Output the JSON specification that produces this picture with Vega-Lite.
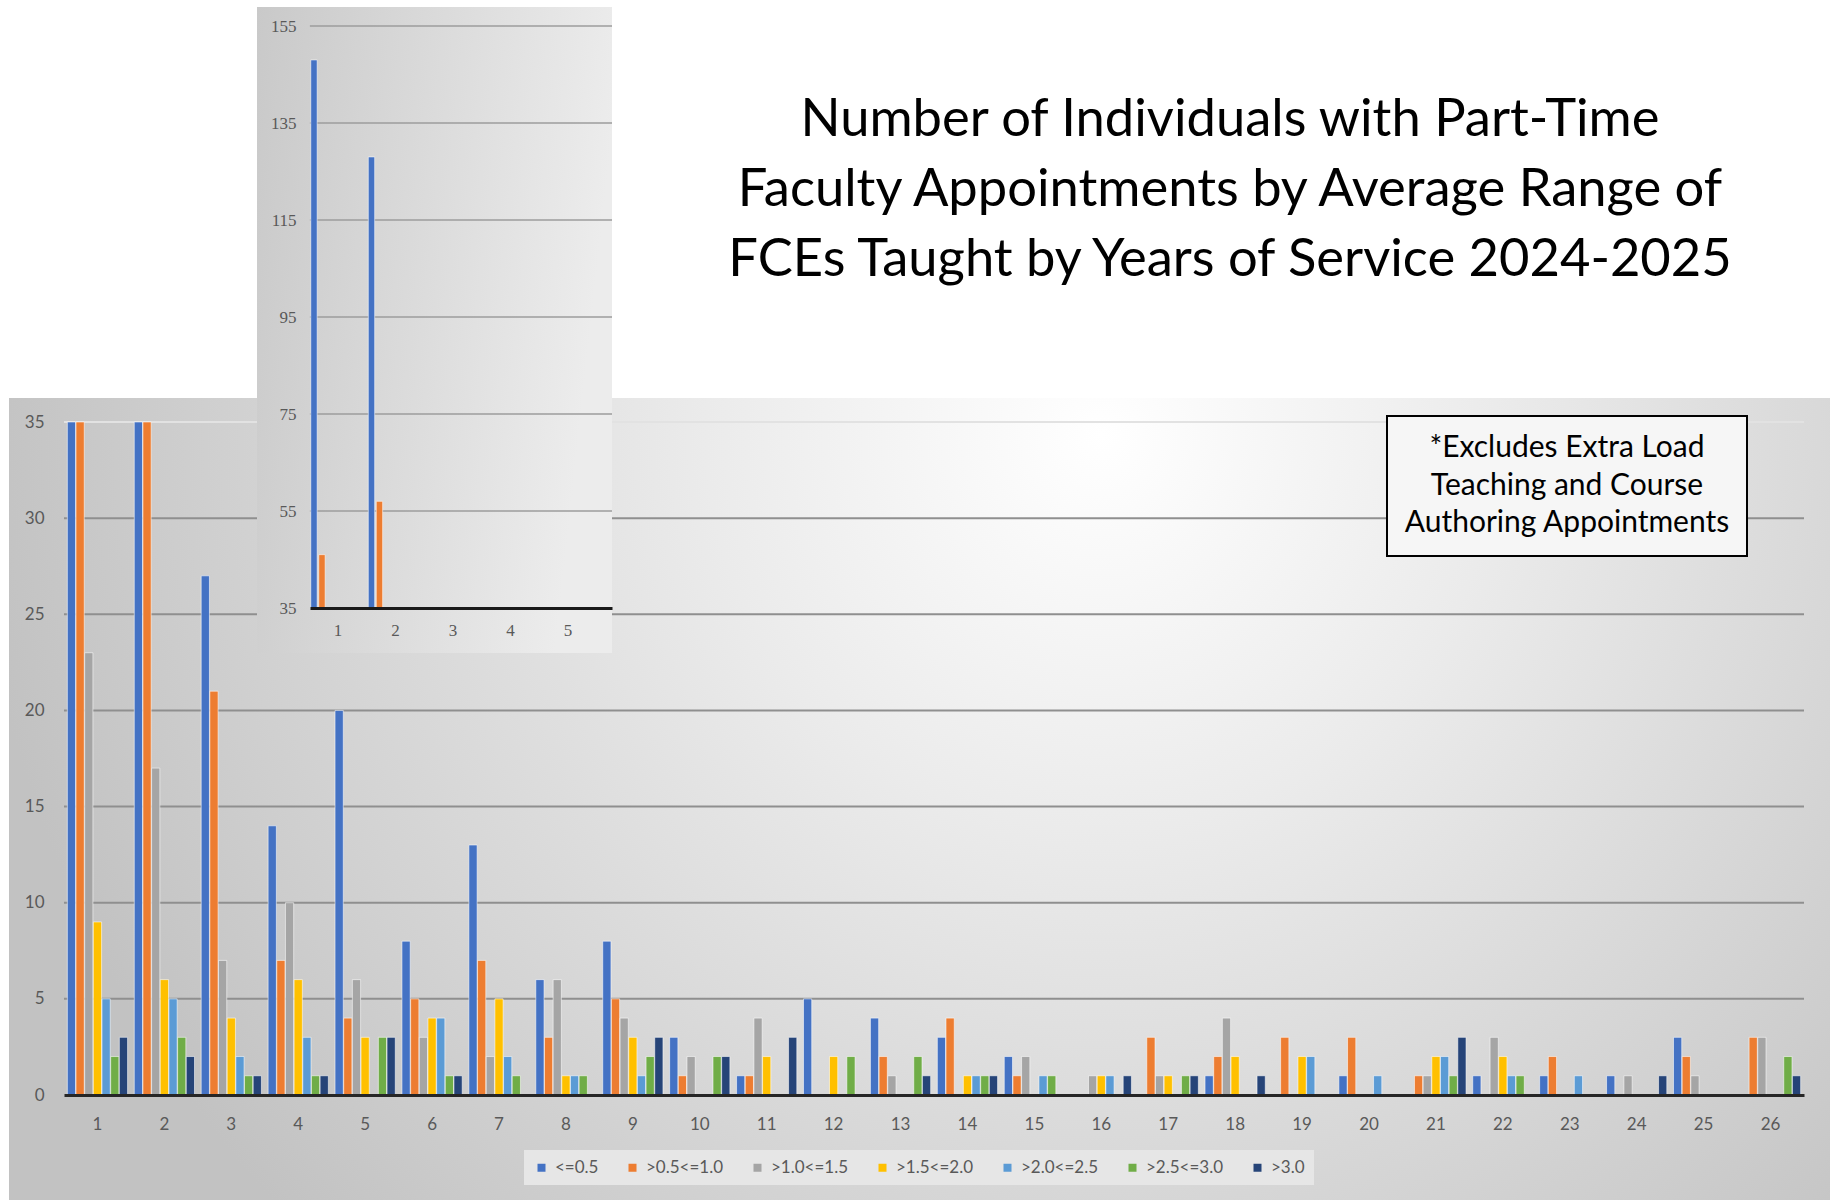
{
  "$schema": "https://vega.github.io/schema/vega-lite/v6.json",
  "width": 1821,
  "height": 802,
  "autosize": {"type": "none"},
  "padding": {"left": 9, "top": 398, "right": 7, "bottom": 0},
  "background": "#ffffff",
  "title": {
    "text": ["Number of Individuals with Part-Time", "Faculty Appointments by Average Range of", "FCEs Taught by Years of Service 2024-2025"],
    "anchor": "start",
    "frame": "group",
    "align": "center",
    "dx": 1221,
    "offset": -280,
    "baseline": "top",
    "font": "Lato",
    "fontSize": 52.5,
    "fontWeight": "normal",
    "color": "#000000",
    "lineHeight": 70
  },
  "config": {"view": {"stroke": null}, "legend": {"strokeWidth": 2}},
  "datasets": {
    "fce": [
      {"year": 1, "range": "<=0.5", "count": 148}, {"year": 1, "range": ">0.5<=1.0", "count": 46}, {"year": 1, "range": ">1.0<=1.5", "count": 23}, {"year": 1, "range": ">1.5<=2.0", "count": 9}, {"year": 1, "range": ">2.0<=2.5", "count": 5}, {"year": 1, "range": ">2.5<=3.0", "count": 2}, {"year": 1, "range": ">3.0", "count": 3},
      {"year": 2, "range": "<=0.5", "count": 128}, {"year": 2, "range": ">0.5<=1.0", "count": 57}, {"year": 2, "range": ">1.0<=1.5", "count": 17}, {"year": 2, "range": ">1.5<=2.0", "count": 6}, {"year": 2, "range": ">2.0<=2.5", "count": 5}, {"year": 2, "range": ">2.5<=3.0", "count": 3}, {"year": 2, "range": ">3.0", "count": 2},
      {"year": 3, "range": "<=0.5", "count": 27}, {"year": 3, "range": ">0.5<=1.0", "count": 21}, {"year": 3, "range": ">1.0<=1.5", "count": 7}, {"year": 3, "range": ">1.5<=2.0", "count": 4}, {"year": 3, "range": ">2.0<=2.5", "count": 2}, {"year": 3, "range": ">2.5<=3.0", "count": 1}, {"year": 3, "range": ">3.0", "count": 1},
      {"year": 4, "range": "<=0.5", "count": 14}, {"year": 4, "range": ">0.5<=1.0", "count": 7}, {"year": 4, "range": ">1.0<=1.5", "count": 10}, {"year": 4, "range": ">1.5<=2.0", "count": 6}, {"year": 4, "range": ">2.0<=2.5", "count": 3}, {"year": 4, "range": ">2.5<=3.0", "count": 1}, {"year": 4, "range": ">3.0", "count": 1},
      {"year": 5, "range": "<=0.5", "count": 20}, {"year": 5, "range": ">0.5<=1.0", "count": 4}, {"year": 5, "range": ">1.0<=1.5", "count": 6}, {"year": 5, "range": ">1.5<=2.0", "count": 3}, {"year": 5, "range": ">2.5<=3.0", "count": 3}, {"year": 5, "range": ">3.0", "count": 3},
      {"year": 6, "range": "<=0.5", "count": 8}, {"year": 6, "range": ">0.5<=1.0", "count": 5}, {"year": 6, "range": ">1.0<=1.5", "count": 3}, {"year": 6, "range": ">1.5<=2.0", "count": 4}, {"year": 6, "range": ">2.0<=2.5", "count": 4}, {"year": 6, "range": ">2.5<=3.0", "count": 1}, {"year": 6, "range": ">3.0", "count": 1},
      {"year": 7, "range": "<=0.5", "count": 13}, {"year": 7, "range": ">0.5<=1.0", "count": 7}, {"year": 7, "range": ">1.0<=1.5", "count": 2}, {"year": 7, "range": ">1.5<=2.0", "count": 5}, {"year": 7, "range": ">2.0<=2.5", "count": 2}, {"year": 7, "range": ">2.5<=3.0", "count": 1},
      {"year": 8, "range": "<=0.5", "count": 6}, {"year": 8, "range": ">0.5<=1.0", "count": 3}, {"year": 8, "range": ">1.0<=1.5", "count": 6}, {"year": 8, "range": ">1.5<=2.0", "count": 1}, {"year": 8, "range": ">2.0<=2.5", "count": 1}, {"year": 8, "range": ">2.5<=3.0", "count": 1},
      {"year": 9, "range": "<=0.5", "count": 8}, {"year": 9, "range": ">0.5<=1.0", "count": 5}, {"year": 9, "range": ">1.0<=1.5", "count": 4}, {"year": 9, "range": ">1.5<=2.0", "count": 3}, {"year": 9, "range": ">2.0<=2.5", "count": 1}, {"year": 9, "range": ">2.5<=3.0", "count": 2}, {"year": 9, "range": ">3.0", "count": 3},
      {"year": 10, "range": "<=0.5", "count": 3}, {"year": 10, "range": ">0.5<=1.0", "count": 1}, {"year": 10, "range": ">1.0<=1.5", "count": 2}, {"year": 10, "range": ">2.5<=3.0", "count": 2}, {"year": 10, "range": ">3.0", "count": 2},
      {"year": 11, "range": "<=0.5", "count": 1}, {"year": 11, "range": ">0.5<=1.0", "count": 1}, {"year": 11, "range": ">1.0<=1.5", "count": 4}, {"year": 11, "range": ">1.5<=2.0", "count": 2}, {"year": 11, "range": ">3.0", "count": 3},
      {"year": 12, "range": "<=0.5", "count": 5}, {"year": 12, "range": ">1.5<=2.0", "count": 2}, {"year": 12, "range": ">2.5<=3.0", "count": 2},
      {"year": 13, "range": "<=0.5", "count": 4}, {"year": 13, "range": ">0.5<=1.0", "count": 2}, {"year": 13, "range": ">1.0<=1.5", "count": 1}, {"year": 13, "range": ">2.5<=3.0", "count": 2}, {"year": 13, "range": ">3.0", "count": 1},
      {"year": 14, "range": "<=0.5", "count": 3}, {"year": 14, "range": ">0.5<=1.0", "count": 4}, {"year": 14, "range": ">1.5<=2.0", "count": 1}, {"year": 14, "range": ">2.0<=2.5", "count": 1}, {"year": 14, "range": ">2.5<=3.0", "count": 1}, {"year": 14, "range": ">3.0", "count": 1},
      {"year": 15, "range": "<=0.5", "count": 2}, {"year": 15, "range": ">0.5<=1.0", "count": 1}, {"year": 15, "range": ">1.0<=1.5", "count": 2}, {"year": 15, "range": ">2.0<=2.5", "count": 1}, {"year": 15, "range": ">2.5<=3.0", "count": 1},
      {"year": 16, "range": ">1.0<=1.5", "count": 1}, {"year": 16, "range": ">1.5<=2.0", "count": 1}, {"year": 16, "range": ">2.0<=2.5", "count": 1}, {"year": 16, "range": ">3.0", "count": 1},
      {"year": 17, "range": ">0.5<=1.0", "count": 3}, {"year": 17, "range": ">1.0<=1.5", "count": 1}, {"year": 17, "range": ">1.5<=2.0", "count": 1}, {"year": 17, "range": ">2.5<=3.0", "count": 1}, {"year": 17, "range": ">3.0", "count": 1},
      {"year": 18, "range": "<=0.5", "count": 1}, {"year": 18, "range": ">0.5<=1.0", "count": 2}, {"year": 18, "range": ">1.0<=1.5", "count": 4}, {"year": 18, "range": ">1.5<=2.0", "count": 2}, {"year": 18, "range": ">3.0", "count": 1},
      {"year": 19, "range": ">0.5<=1.0", "count": 3}, {"year": 19, "range": ">1.5<=2.0", "count": 2}, {"year": 19, "range": ">2.0<=2.5", "count": 2},
      {"year": 20, "range": "<=0.5", "count": 1}, {"year": 20, "range": ">0.5<=1.0", "count": 3}, {"year": 20, "range": ">2.0<=2.5", "count": 1},
      {"year": 21, "range": ">0.5<=1.0", "count": 1}, {"year": 21, "range": ">1.0<=1.5", "count": 1}, {"year": 21, "range": ">1.5<=2.0", "count": 2}, {"year": 21, "range": ">2.0<=2.5", "count": 2}, {"year": 21, "range": ">2.5<=3.0", "count": 1}, {"year": 21, "range": ">3.0", "count": 3},
      {"year": 22, "range": "<=0.5", "count": 1}, {"year": 22, "range": ">1.0<=1.5", "count": 3}, {"year": 22, "range": ">1.5<=2.0", "count": 2}, {"year": 22, "range": ">2.0<=2.5", "count": 1}, {"year": 22, "range": ">2.5<=3.0", "count": 1},
      {"year": 23, "range": "<=0.5", "count": 1}, {"year": 23, "range": ">0.5<=1.0", "count": 2}, {"year": 23, "range": ">2.0<=2.5", "count": 1},
      {"year": 24, "range": "<=0.5", "count": 1}, {"year": 24, "range": ">1.0<=1.5", "count": 1}, {"year": 24, "range": ">3.0", "count": 1},
      {"year": 25, "range": "<=0.5", "count": 3}, {"year": 25, "range": ">0.5<=1.0", "count": 2}, {"year": 25, "range": ">1.0<=1.5", "count": 1},
      {"year": 26, "range": ">0.5<=1.0", "count": 3}, {"year": 26, "range": ">1.0<=1.5", "count": 3}, {"year": 26, "range": ">2.5<=3.0", "count": 2}, {"year": 26, "range": ">3.0", "count": 1}
    ]
  },
  "layer": [
    {
      "data": {"values": [{"panel": "main"}]},
      "mark": {"type": "rect", "color": {"gradient": "radial", "x1": 0.6, "y1": 0.3, "r1": 0, "x2": 0.6, "y2": 0.3, "r2": 0.62,
        "stops": [{"offset": 0, "color": "#ffffff"}, {"offset": 0.35, "color": "#ebebeb"}, {"offset": 1, "color": "#c2c2c2"}]}},
      "encoding": {
        "x": {"datum": 0, "type": "quantitative", "scale": {"domain": [0, 1], "range": [0, 1821], "nice": false, "zero": false}, "axis": null},
        "x2": {"datum": 1},
        "y": {"datum": 0, "type": "quantitative", "scale": {"domain": [0, 1], "range": [0, 802], "nice": false, "zero": false}, "axis": null},
        "y2": {"datum": 1}
      }
    },
    {
      "layer": [
        {
          "data": {"values": [{"tick": 5}, {"tick": 10}, {"tick": 15}, {"tick": 20}, {"tick": 25}, {"tick": 30}, {"tick": 35}]},
          "mark": {"type": "rule", "strokeWidth": 2},
          "encoding": {
            "x": {"datum": 0.0302, "type": "quantitative", "scale": {"domain": [0, 1], "range": [0, 1821], "nice": false, "zero": false}, "axis": null},
            "x2": {"datum": 0.98572},
            "y": {
              "field": "tick", "type": "quantitative",
              "scale": {"domain": [0, 35], "range": [697, 24], "nice": false, "clamp": true},
              "axis": {"orient": "left", "offset": -55, "title": null, "values": [0, 5, 10, 15, 20, 25, 30, 35], "domain": false, "ticks": false, "grid": false, "zindex": 1,
                "labelPadding": 20, "labelFont": "Lato", "labelFontSize": 17, "labelColor": "#595959"}
            },
            "stroke": {"condition": {"test": "datum.tick === 35", "value": "#e2e2e2"}, "value": "#8f8f8f"}
          }
        },
        {
          "data": {"name": "fce"},
          "mark": {"type": "bar", "stroke": "#ffffff", "strokeWidth": 1, "strokeOpacity": 0.55},
          "encoding": {
            "x": {
              "field": "year", "type": "ordinal",
              "scale": {"range": [55, 1795], "paddingInner": 0.1, "paddingOuter": 0.05},
              "axis": {"orient": "bottom", "offset": -105, "title": null, "labelAngle": 0, "ticks": false, "grid": false, "zindex": 1,
                "domainColor": "#262626", "domainWidth": 3, "labelPadding": 21, "labelFont": "Lato", "labelFontSize": 17, "labelColor": "#595959"}
            },
            "xOffset": {
              "field": "range", "type": "nominal",
              "scale": {"domain": ["<=0.5", ">0.5<=1.0", ">1.0<=1.5", ">1.5<=2.0", ">2.0<=2.5", ">2.5<=3.0", ">3.0"], "paddingInner": 0.05, "paddingOuter": 0}
            },
            "y": {
              "field": "count", "type": "quantitative",
              "scale": {"domain": [0, 35], "range": [697, 24], "nice": false, "clamp": true},
              "axis": {"orient": "left", "offset": -55, "title": null, "values": [0, 5, 10, 15, 20, 25, 30, 35], "domain": false, "ticks": false, "grid": false, "zindex": 1,
                "labelPadding": 20, "labelFont": "Lato", "labelFontSize": 17, "labelColor": "#595959"}
            },
            "color": {
              "field": "range", "type": "nominal",
              "scale": {"domain": ["<=0.5", ">0.5<=1.0", ">1.0<=1.5", ">1.5<=2.0", ">2.0<=2.5", ">2.5<=3.0", ">3.0"],
                "range": ["#4472C4", "#ED7D31", "#A5A5A5", "#FFC000", "#5B9BD5", "#70AD47", "#264478"]},
              "legend": {"orient": "none", "legendX": 515, "legendY": 752, "direction": "horizontal", "columns": 7, "title": null,
                "fillColor": "#e6e6e6", "padding": 9, "symbolType": "square", "symbolSize": 64, "symbolStrokeWidth": 0,
                "labelFont": "Lato", "labelFontSize": 17, "labelColor": "#595959", "columnPadding": 25, "labelOffset": 5}
            }
          }
        },
        {
          "data": {"values": [{"note": "note"}]},
          "mark": {"type": "point", "opacity": 0},
          "encoding": {
            "shape": {
              "field": "note", "type": "nominal",
              "legend": {"orient": "none", "legendX": 1378, "legendY": 18,
                "title": ["*Excludes Extra Load", "Teaching and Course", "Authoring Appointments"],
                "titleFont": "Lato", "titleFontSize": 30, "titleFontWeight": "normal", "titleColor": "#000000",
                "titleAlign": "center", "titleAnchor": "middle", "titleLineHeight": 37.5, "titleLimit": 2000, "titlePadding": 0,
                "labelExpr": "''", "labelFontSize": 1, "symbolSize": 0, "symbolOpacity": 0, "symbolStrokeWidth": 0,
                "padding": 17, "strokeColor": "#000000", "fillColor": "#f6f6f6"}
            }
          }
        }
      ],
      "resolve": {"scale": {"x": "independent"}, "axis": {"x": "independent"}}
    },
    {
      "layer": [
        {
          "layer": [
            {
              "data": {"values": [{"panel": "inset"}]},
              "mark": {"type": "rect", "color": {"gradient": "linear", "x1": 0, "y1": 0, "x2": 1, "y2": 0.2,
                "stops": [{"offset": 0, "color": "#c9c9c9"}, {"offset": 1, "color": "#ececec"}]}},
              "encoding": {
                "x": {"datum": 0, "type": "quantitative", "scale": {"domain": [0, 1], "range": [248, 603], "nice": false, "zero": false}, "axis": null},
                "x2": {"datum": 1},
                "y": {"datum": 158.9, "type": "quantitative", "scale": {"domain": [35, 155], "range": [210, -372], "nice": false, "zero": false},
                  "axis": {"orient": "left", "offset": -301, "title": null, "values": [35, 55, 75, 95, 115, 135, 155], "domain": false, "ticks": false, "grid": false, "zindex": 2,
                    "labelPadding": 14, "labelFont": "Liberation Serif", "labelFontSize": 17, "labelColor": "#595959"}},
                "y2": {"datum": 25.7}
              }
            },
            {
              "data": {"values": [{"tick": 55}, {"tick": 75}, {"tick": 95}, {"tick": 115}, {"tick": 135}, {"tick": 155}]},
              "mark": {"type": "rule", "color": "#9c9c9c", "strokeWidth": 1.5},
              "encoding": {
                "x": {"datum": 0.149, "type": "quantitative", "axis": null},
                "x2": {"datum": 1},
                "y": {"field": "tick", "type": "quantitative", "scale": {"domain": [35, 155], "range": [210, -372], "nice": false, "zero": false},
                  "axis": {"orient": "left", "offset": -301, "title": null, "values": [35, 55, 75, 95, 115, 135, 155], "domain": false, "ticks": false, "grid": false, "zindex": 2,
                    "labelPadding": 14, "labelFont": "Liberation Serif", "labelFontSize": 17, "labelColor": "#595959"}}
              }
            }
          ]
        },
        {
          "data": {"name": "fce"},
          "transform": [{"filter": "datum.year <= 5 && datum.count > 35"}],
          "mark": {"type": "bar", "stroke": "#ffffff", "strokeWidth": 1, "strokeOpacity": 0.55},
          "encoding": {
            "x": {
              "field": "year", "type": "ordinal",
              "scale": {"domain": [1, 2, 3, 4, 5], "range": [301, 603], "paddingInner": 0.03, "paddingOuter": 0.141, "align": 0},
              "axis": {"orient": "bottom", "offset": -592, "title": null, "labelAngle": 0, "ticks": false, "grid": false, "zindex": 2,
                "domainColor": "#1a1a1a", "domainWidth": 3, "labelPadding": 14, "labelFont": "Liberation Serif", "labelFontSize": 17, "labelColor": "#595959"}
            },
            "xOffset": {
              "field": "range", "type": "nominal",
              "scale": {"domain": ["<=0.5", ">0.5<=1.0", ">1.0<=1.5", ">1.5<=2.0", ">2.0<=2.5", ">2.5<=3.0", ">3.0"], "paddingInner": 0.2, "paddingOuter": 0.1}
            },
            "y": {
              "field": "count", "type": "quantitative",
              "scale": {"domain": [35, 155], "range": [210, -372], "nice": false, "zero": false},
              "axis": {"orient": "left", "offset": -301, "title": null, "values": [35, 55, 75, 95, 115, 135, 155], "domain": false, "ticks": false, "grid": false, "zindex": 2,
                "labelPadding": 14, "labelFont": "Liberation Serif", "labelFontSize": 17, "labelColor": "#595959"}
            },
            "y2": {"datum": 35},
            "color": {"field": "range", "type": "nominal", "legend": null}
          }
        }
      ],
      "resolve": {"scale": {"x": "independent", "xOffset": "independent"}, "axis": {"x": "independent"}}
    }
  ],
  "resolve": {"scale": {"x": "independent", "y": "independent", "xOffset": "independent"}, "axis": {"x": "independent", "y": "independent"}}
}
